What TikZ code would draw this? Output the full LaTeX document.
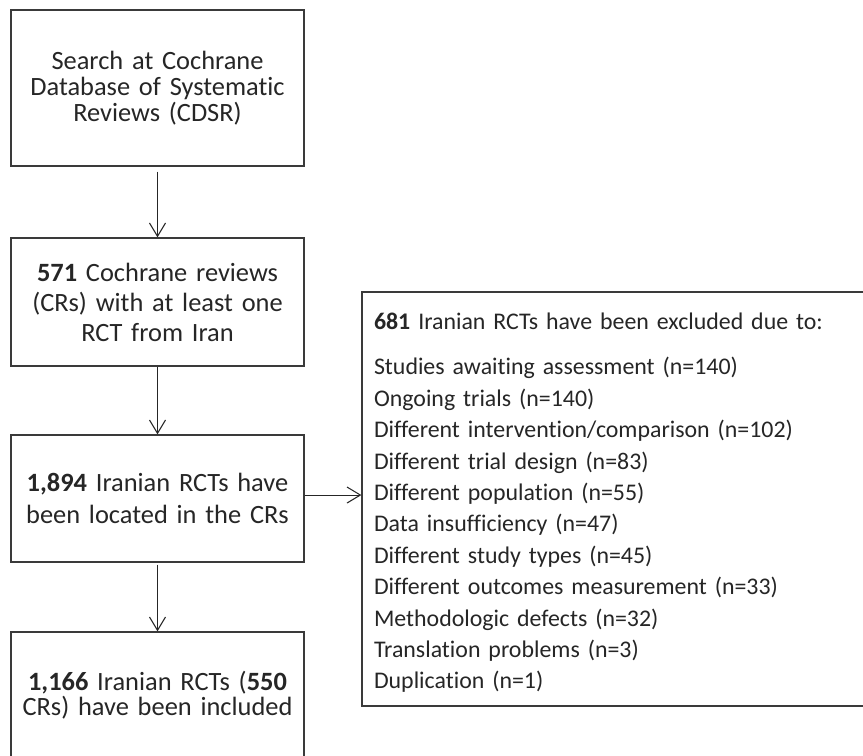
\documentclass[tikz,border=0pt]{standalone}
\usepackage{fontspec}
\setmainfont{Carlito}[Ligatures=NoCommon]
\usetikzlibrary{arrows.meta}
\definecolor{ink}{HTML}{262626}
\definecolor{edge}{HTML}{3A3A3A}
\begin{document}
\begin{tikzpicture}[x=0.75pt,y=-0.75pt,
  box/.style={draw=edge,line width=0.95pt,rectangle,inner sep=0pt,
    minimum width=219.75pt,text width=219pt,align=center,text=ink},
  exbox/.style={draw=edge,line width=0.95pt,rectangle,inner sep=0pt,
    minimum width=376.1pt,minimum height=310.5pt},
  exlist/.style={inner sep=0pt,text width=358.1pt,align=left,text=ink},
  arr/.style={draw=ink,line width=0.8pt,-{Straight Barb[length=10pt,width=12pt,line width=0.8pt]}}]
\useasboundingbox (0,0) rectangle (863,756);
\fill[white] (0,0) rectangle (863,756);
\node[box,minimum height=117pt,font=\fontsize{19.8}{19.5}\selectfont] (b1) at (157.5,88)
  {Search at Cochrane\\Database of Systematic\\Reviews (CDSR)};
\node[box,minimum height=96pt,font=\fontsize{19.8}{22.5}\selectfont] (b2) at (157.5,302)
  {\textbf{571} Cochrane reviews\\(CRs) with at least one\\RCT from Iran};
\node[box,minimum height=95.25pt,font=\fontsize{19.8}{24}\selectfont] (b3) at (157.5,498.5)
  {\textbf{1,894} Iranian RCTs have\\been located in the CRs};
\node[box,minimum height=94.5pt,font=\fontsize{19.8}{18.75}\selectfont] (b4) at (157.5,695)
  {\textbf{1,166} Iranian RCTs (\textbf{550}\\CRs) have been included};
\node[exbox] (ex) at (612.75,499) {};
\node[exlist,font=\fontsize{17.9}{23.55}\selectfont] (exl) at ([yshift=-3pt]ex.center)
  {\textbf{681} Iranian RCTs have been excluded due to:\\[10.2pt]
   Studies awaiting assessment (n=140)\\
   Ongoing trials (n=140)\\
   Different intervention/comparison (n=102)\\
   Different trial design (n=83)\\
   Different population (n=55)\\
   Data insufficiency (n=47)\\
   Different study types (n=45)\\
   Different outcomes measurement (n=33)\\
   Methodologic defects (n=32)\\
   Translation problems (n=3)\\
   Duplication (n=1)};
\draw[arr] ([yshift=-3.75pt]b1.south) -- (b2.north);
\draw[arr] (b2.south) -- (b3.north);
\draw[arr] ([yshift=-1.5pt]b3.south) -- (b4.north);
\draw[arr] ([yshift=2.6pt]b3.east) -- ([yshift=2.6pt]b3.east -| ex.west);
\end{tikzpicture}
\end{document}
